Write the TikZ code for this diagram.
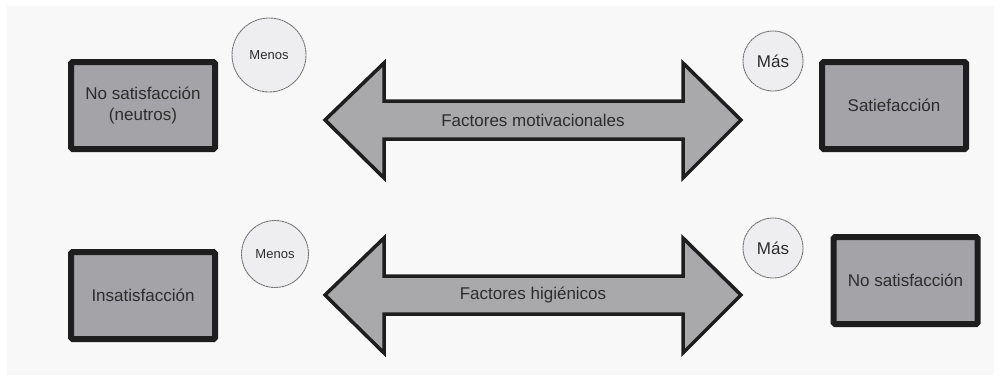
\documentclass[tikz,border=0pt]{standalone}
\usepackage{fontspec}
\setmainfont{Liberation Sans}
\definecolor{panel}{HTML}{F8F8F8}
\definecolor{boxfill}{HTML}{A4A4A8}
\definecolor{arrowfill}{HTML}{A9A9AC}
\definecolor{bubble}{HTML}{EEEEF0}
\definecolor{ink}{HTML}{2C2C2C}
\definecolor{edge}{HTML}{1E1E1E}
\tikzset{
  statebox/.style={draw=edge, fill=boxfill, line width=6pt, rounded corners=1.5pt,
    minimum width=144pt, minimum height=87pt, inner sep=0pt, align=center,
    text=ink, font=\fontsize{17}{21}\selectfont},
  bubblenode/.style={circle, draw=gray!90!black, fill=bubble, line width=0.9pt,
    dash pattern=on 2.2pt off 0.5pt, inner sep=0pt, text=ink},
  bigarrow/.style={draw=edge, fill=arrowfill, line width=3.5pt, line join=miter},
  arrowlabel/.style={text=ink, font=\fontsize{17}{20}\selectfont, inner sep=0pt}
}
\begin{document}
\begin{tikzpicture}[x=1pt, y=-1pt]
  \useasboundingbox (0,0) rectangle (1000,391);
  \fill[white] (0,0) rectangle (1000,391);
  \fill[panel] (7,6) rectangle (994,375);

  % upper row: motivational factors
  \node[statebox] (nosat) at (143,105.5) {No satisfacción\\(neutros)};
  \node[statebox] (sat) at (894,105.5) {Satiefacción};
  \node[bubblenode, minimum size=74pt, font=\fontsize{13}{15}\selectfont] (menos1) at (269,55) {Menos};
  \node[bubblenode, minimum size=60pt, font=\fontsize{17}{20}\selectfont] (mas1) at (773,61) {Más};
  \draw[bigarrow] (325,120) -- (384,63) -- (384,101) -- (683,101) -- (683,63)
    -- (741,120) -- (683,178) -- (683,139) -- (384,139) -- (384,178) -- cycle;
  \node[arrowlabel] (motiv) at (533,120) {Factores motivacionales};

  % lower row: hygiene factors
  \node[statebox] (insat) at (143,295.5) {Insatisfacción};
  \node[statebox] (nosat2) at (905.5,280.5) {No satisfacción};
  \node[bubblenode, minimum size=67pt, font=\fontsize{13}{15}\selectfont] (menos2) at (275,254) {Menos};
  \node[bubblenode, minimum size=60pt, font=\fontsize{17}{20}\selectfont] (mas2) at (773,248) {Más};
  \draw[bigarrow] (325,295) -- (384,238) -- (384,276) -- (683,276) -- (683,238)
    -- (741,295) -- (683,353) -- (683,314) -- (384,314) -- (384,353) -- cycle;
  \node[arrowlabel] (hig) at (533,295) {Factores higiénicos};
\end{tikzpicture}
\end{document}
